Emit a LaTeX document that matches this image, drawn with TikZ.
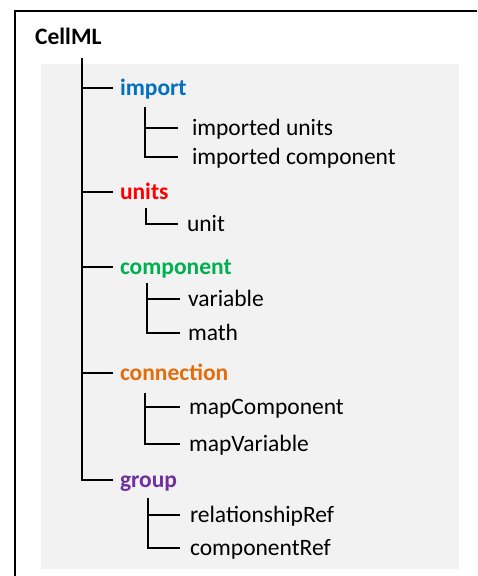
\documentclass[tikz,border=0pt]{standalone}
\usepackage{fontspec}
\setmainfont{Carlito}
\definecolor{bgray}{HTML}{F2F2F2}
\definecolor{cblue}{HTML}{0070C0}
\definecolor{cred}{HTML}{FF0000}
\definecolor{cgreen}{HTML}{00B050}
\definecolor{corange}{HTML}{E46C0A}
\definecolor{cpurple}{HTML}{7030A0}
\begin{document}
\begin{tikzpicture}[x=1pt,y=1pt,
  every node/.style={font=\fontsize{23.5}{28}\selectfont},
  lone/.style={anchor=west, inner sep=0pt, outer xsep=7pt, text height=15.5pt, text depth=0pt, font=\fontsize{23.5}{28}\selectfont\bfseries},
  ltwo/.style={anchor=west, inner sep=0pt, outer xsep=9pt, text height=15pt, text depth=0pt},
  tree/.style={line width=1.8pt, black}]
\useasboundingbox (0,0) rectangle (477,-576);
\fill[bgray] (41,-64) rectangle (459,-569);
\draw[line width=2pt] (15,-576) -- (15,-11) -- (477,-11);
\node[anchor=base west, inner sep=0pt, font=\fontsize{23.5}{28}\selectfont\bfseries] (cellml) at (35,-44) {CellML};
% level 1
\node[lone, text=cblue] (import) at (113,-88) {import};
\node[lone, text=cred] (units) at (113,-192) {units};
\node[lone, text=cgreen] (component) at (113,-267) {component};
\node[lone, text=corange] (connection) at (113,-373) {connection};
\node[lone, text=cpurple] (group) at (113,-480) {group};
\coordinate (trunk) at (82,-58);
\draw[tree] (trunk) |- (group.west);
\foreach \n in {import,units,component,connection}
  \draw[tree] (\n.west -| trunk) -- (\n.west);
% level 2
\node[ltwo, outer xsep=14pt] (iu) at (178,-128) {imported units};
\node[ltwo, outer xsep=14pt] (ic) at (178,-157) {imported component};
\coordinate (s1) at (145,-107);
\draw[tree] (s1) |- (iu.west);
\draw[tree] (s1) |- (ic.west);
\node[ltwo] (unit) at (178,-224) {unit};
\coordinate (s2) at (146,-208);
\draw[tree] (s2) |- (unit.west);
\node[ltwo, outer xsep=8pt] (variable) at (180,-299) {variable};
\node[ltwo, outer xsep=8pt] (math) at (180,-333) {math};
\coordinate (s3) at (147,-283);
\draw[tree] (s3) |- (variable.west);
\draw[tree] (s3) |- (math.west);
\node[ltwo] (mapc) at (180,-407) {mapComponent};
\node[ltwo] (mapv) at (180,-444) {mapVariable};
\coordinate (s4) at (145,-393);
\draw[tree] (s4) |- (mapc.west);
\draw[tree] (s4) |- (mapv.west);
\node[ltwo, outer xsep=10pt] (rel) at (180,-515) {relationshipRef};
\node[ltwo, outer xsep=10pt] (cref) at (180,-548) {componentRef};
\coordinate (s5) at (148,-498);
\draw[tree] (s5) |- (rel.west);
\draw[tree] (s5) |- (cref.west);
\end{tikzpicture}
\end{document}
